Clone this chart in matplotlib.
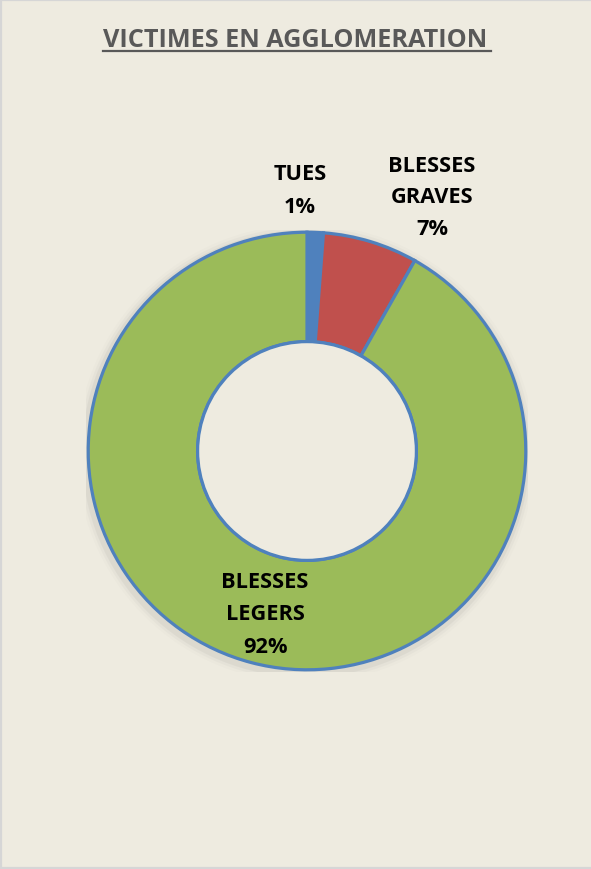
import matplotlib
matplotlib.use("Agg")
import matplotlib.pyplot as plt
from matplotlib.lines import Line2D
from matplotlib.patches import Wedge, Circle

categories = ["TUES", "BLESSES\nGRAVES", "BLESSES\nLEGERS"]
values = [1.2, 7.0, 91.8]
pct_labels = ["1%", "7%", "92%"]
colors = ["#4F81BD", "#C0504D", "#9BBB59"]
title = "VICTIMES EN AGGLOMERATION"

W, H = 591, 870
dpi = 100
fig = plt.figure(figsize=(W / dpi, H / dpi), dpi=dpi)
bg = "#EEEBE0"
fig.patch.set_facecolor(bg)

def fx(px):
    return px / W

def fy(py):
    return 1 - py / H

# frame lines (light grey)
for xs, ys in [([0.0015, 0.0015], [0, 1]), ([0, 1], [0.0015, 0.0015]), ([0, 1], [0.999, 0.999])]:
    fig.add_artist(Line2D(xs, ys, transform=fig.transFigure, color="#D6D6D6", lw=1.6))

cx, cy, r = 307, 452, 221
ax = fig.add_axes([fx(cx - r), fy(cy + r), 2 * r / W, 2 * r / H])
ax.set_facecolor(bg)

# soft outer shadow
for i, a in enumerate([0.10, 0.06, 0.03]):
    ax.add_patch(Wedge((-0.006, -0.012), 1.0 + 0.012 * (i + 1), 0, 360,
                       width=0.02 + 0.012 * (i + 1), color="#909090", alpha=a, lw=0))

ax.pie(values, colors=colors, startangle=90, counterclock=False, radius=0.99,
       wedgeprops=dict(width=0.495, edgecolor="#4F81BD", linewidth=2.3))
# donut hole in background colour
ax.add_patch(Circle((0, 0), 0.495, facecolor=bg, edgecolor="#4F81BD", lw=2.3, zorder=5))
ax.set_xlim(-1, 1)
ax.set_ylim(-1, 1)
ax.set_aspect("equal")
ax.axis("off")

fam = ["Open Sans", "DejaVu Sans"]
renderer = fig.canvas.get_renderer()

def fit_size(s, target_px, base=15.0):
    t = fig.text(0, 0, s, fontsize=base, fontweight="bold", family=fam)
    w = t.get_window_extent(renderer).width
    t.remove()
    return base * target_px / w

lab_size = fit_size("BLESSES", 87)
title_size = fit_size(title, 385)

label_lines = [
    (300, [(categories[0], 180), (pct_labels[0], 213)]),
    (432, [("BLESSES", 172), ("GRAVES", 203), (pct_labels[1], 235)]),
    (265, [("BLESSES", 588), ("LEGERS", 620), (pct_labels[2], 653)]),
]
for x, lines in label_lines:
    for s, yb in lines:
        fig.text(fx(x), fy(yb), s, ha="center", va="baseline", fontsize=lab_size,
                 fontweight="bold", family=fam, color="black")

fig.text(fx(295.5), fy(47), title, ha="center", va="baseline", fontsize=title_size,
         fontweight="bold", family=fam, color="#595959")
fig.add_artist(Line2D([fx(103), fx(491)], [fy(52), fy(52)], transform=fig.transFigure,
                      color="#595959", lw=1.6))

fig.savefig("out.png", dpi=dpi, facecolor=bg)
